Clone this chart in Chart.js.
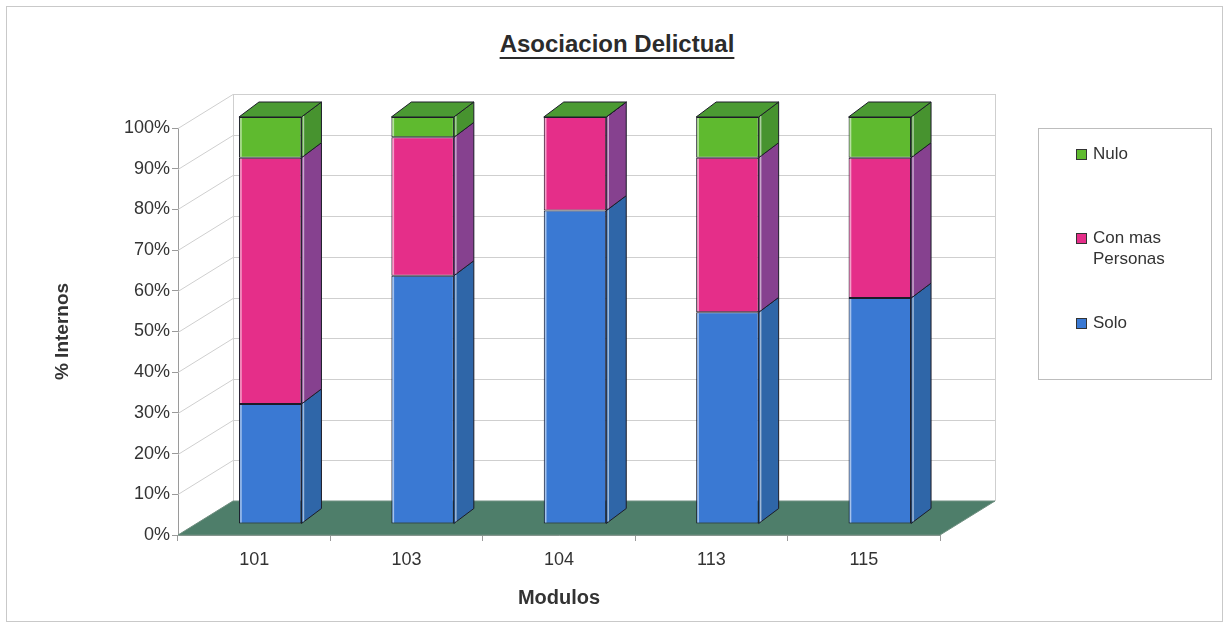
<!DOCTYPE html>
<html>
<head>
<meta charset="utf-8">
<title>Asociacion Delictual</title>
<script src="https://cdn.jsdelivr.net/npm/chart.js@4.4.1/dist/chart.umd.min.js"></script>
<style>
  body   { margin: 0; background: #fff; font-family: "Liberation Sans", Arial, sans-serif; }
  #wrap  { position: relative; width: 1227px; height: 628px; overflow: hidden; }
  #frame { position: absolute; left: 6px; top: 6px; width: 1215px; height: 614px; border: 1px solid #c9c9c9; }
  #title {
    position: absolute; left: 0; top: 30px; width: 1234px; text-align: center;
    font-weight: bold; font-size: 24px; color: #2b2b2b;
    text-decoration: underline; text-underline-offset: 5px; text-decoration-thickness: 2px;
  }
  #chartBox { position: absolute; left: 0; top: 0; width: 1227px; height: 628px; }
  #legend {
    position: absolute; left: 1038px; top: 128px; width: 174px; height: 252px;
    border: 1px solid #bdbdbd; box-sizing: border-box;
  }
  .lg-item { position: absolute; left: 37px; display: flex; align-items: flex-start; }
  .lg-sw   { width: 9px; height: 9px; border: 1px solid #333; margin-top: 6px; margin-right: 6px; flex: none; }
  .lg-txt  { width: 100px; font-size: 17px; line-height: 21px; color: #333; }
</style>
</head>
<body>
<div id="wrap">
  <div id="frame"></div>
  <div id="title">Asociacion Delictual</div>
  <div id="chartBox"><canvas id="chart"></canvas></div>
  <div id="legend"></div>
</div>

<script>
// ── Data ──────────────────────────────────
const modulos = ["101", "103", "104", "113", "115"];
const solo    = [29.5, 61, 77, 52, 55.5];
const conMas  = [60.5, 34, 23, 38, 34.5];
const nulo    = [10, 5, 0, 10, 10];

const seriesNames = ["Solo", "Con mas Personas", "Nulo"];
const frontColors = ["#3a79d3", "#e52e89", "#5fba2f"];
const sideColors  = ["#2f66a8", "#86418f", "#47932f"];
const topColors   = ["#4a86d8", "#c94098", "#4b9a33"];
const FLOOR       = "#4e7e6a";

// ── 3D geometry (pixels) ──────────────────
const WALL_DX = 55,  WALL_DY = -34;   // depth of floor / walls
const SHIFT_X = 16,  SHIFT_Y = -11;   // bars sit a bit into the floor
const BAR_DX  = 20,  BAR_DY  = -15;   // bar depth

function poly(ctx, pts, fill) {
  ctx.beginPath();
  ctx.moveTo(pts[0][0], pts[0][1]);
  pts.slice(1).forEach(p => ctx.lineTo(p[0], p[1]));
  ctx.closePath();
  ctx.fillStyle = fill;
  ctx.fill();
  ctx.stroke();
}

const box3d = {
  id: "box3d",
  beforeDatasetsDraw(chart) {
    const { ctx, chartArea: a, scales: { y } } = chart;
    ctx.save();

    // side wall diagonals + back wall grid
    ctx.strokeStyle = "#cfcfcf";
    ctx.lineWidth = 1;
    y.ticks.forEach(t => {
      const py = Math.round(y.getPixelForValue(t.value)) + 0.5;
      ctx.beginPath();
      ctx.moveTo(a.left, py);
      ctx.lineTo(a.left + WALL_DX, py + WALL_DY);
      ctx.lineTo(a.right + WALL_DX, py + WALL_DY);
      ctx.stroke();
    });
    ctx.beginPath();
    ctx.moveTo(a.left + WALL_DX + 0.5, a.top + WALL_DY);
    ctx.lineTo(a.left + WALL_DX + 0.5, a.bottom + WALL_DY);
    ctx.moveTo(a.right + WALL_DX + 0.5, a.top + WALL_DY);
    ctx.lineTo(a.right + WALL_DX + 0.5, a.bottom + WALL_DY);
    ctx.stroke();

    // floor
    ctx.strokeStyle = "#6f8f80";
    poly(ctx, [
      [a.left, a.bottom],
      [a.right, a.bottom],
      [a.right + WALL_DX, a.bottom + WALL_DY],
      [a.left + WALL_DX, a.bottom + WALL_DY],
    ], FLOOR);
    ctx.restore();

    // bars drawn shifted back onto the floor
    ctx.save();
    ctx.translate(SHIFT_X, SHIFT_Y);
  },

  afterDatasetsDraw(chart) {
    const { ctx } = chart;
    const last = chart.data.datasets.length - 1;
    ctx.lineWidth = 1;
    ctx.strokeStyle = "#1c1c28";

    chart.data.datasets.forEach((ds, di) => {
      chart.getDatasetMeta(di).data.forEach(bar => {
        const { x, y, base, width } = bar;
        const l = x - width / 2, r = x + width / 2;

        // side face
        poly(ctx, [[r, y], [r + BAR_DX, y + BAR_DY], [r + BAR_DX, base + BAR_DY], [r, base]], sideColors[di]);

        // light edge highlights
        if (base - y > 2) {
          ctx.save();
          ctx.strokeStyle = "rgba(255,255,255,0.55)";
          ctx.lineWidth = 1.5;
          ctx.beginPath();
          ctx.moveTo(l + 2, y + 1); ctx.lineTo(l + 2, base - 1);
          ctx.moveTo(r + 2, y - 1); ctx.lineTo(r + 2, base - 2);
          ctx.stroke();
          ctx.restore();
        }

        // top face on the last segment of each stack
        if (di === last) {
          poly(ctx, [[l, y], [l + BAR_DX, y + BAR_DY], [r + BAR_DX, y + BAR_DY], [r, y]], topColors[di]);
        }
      });
    });
    ctx.restore();
  },
};

// ── Legend (HTML) ─────────────────────────
const legendTops = { "Nulo": 14, "Con mas Personas": 98, "Solo": 183 };
(function buildLegend() {
  const box = document.getElementById("legend");
  seriesNames.slice().reverse().forEach(name => {
    const i = seriesNames.indexOf(name);
    const item = document.createElement("div");
    item.className = "lg-item";
    item.style.top = legendTops[name] + "px";
    item.innerHTML = `<span class="lg-sw" style="background:${frontColors[i]}"></span><span class="lg-txt">${name}</span>`;
    box.appendChild(item);
  });
})();

// ── Chart ─────────────────────────────────
const font = "'Liberation Sans', Arial, sans-serif";
const values = [solo, conMas, nulo];

new Chart(document.getElementById("chart"), {
  type: "bar",
  data: {
    labels: modulos,
    datasets: seriesNames.map((name, i) => ({
      label: name,
      data: values[i],
      backgroundColor: frontColors[i],
      borderColor: "#1c1c28",
      borderWidth: 1,
      borderSkipped: false,
      barPercentage: 1,
      categoryPercentage: 0.41,
      clip: false,
    })),
  },
  options: {
    responsive: true,
    maintainAspectRatio: false,
    animation: false,
    layout: { padding: { left: 46, top: 128, right: 287, bottom: 10 } },
    plugins: {
      legend: { display: false },
      tooltip: { enabled: false },
      title: { display: false },
    },
    scales: {
      x: {
        stacked: true,
        afterFit: s => { s.height = 83; },
        grid: { offset: true, drawOnChartArea: false, drawTicks: true, tickLength: 6, color: "#9a9a9a" },
        border: { display: true, color: "#9a9a9a" },
        ticks: { color: "#333", padding: 8, font: { family: font, size: 18 } },
        title: {
          display: true, text: "Modulos", color: "#333",
          padding: { top: 0, bottom: 8 },
          font: { family: font, size: 20, weight: "bold" },
        },
      },
      y: {
        stacked: true,
        min: 0, max: 100,
        afterFit: s => { s.width = 132; },
        grid: { drawOnChartArea: false, drawTicks: true, tickLength: 6, color: "#9a9a9a" },
        border: { display: true, color: "#9a9a9a" },
        ticks: {
          stepSize: 10, color: "#333", padding: 2,
          font: { family: font, size: 18 },
          callback: v => v + "%",
        },
        title: {
          display: true, text: "% Internos", color: "#333",
          padding: { top: 5, bottom: 0 },
          font: { family: font, size: 19, weight: "bold" },
        },
      },
    },
  },
  plugins: [box3d],
});
</script>
</body>
</html>
